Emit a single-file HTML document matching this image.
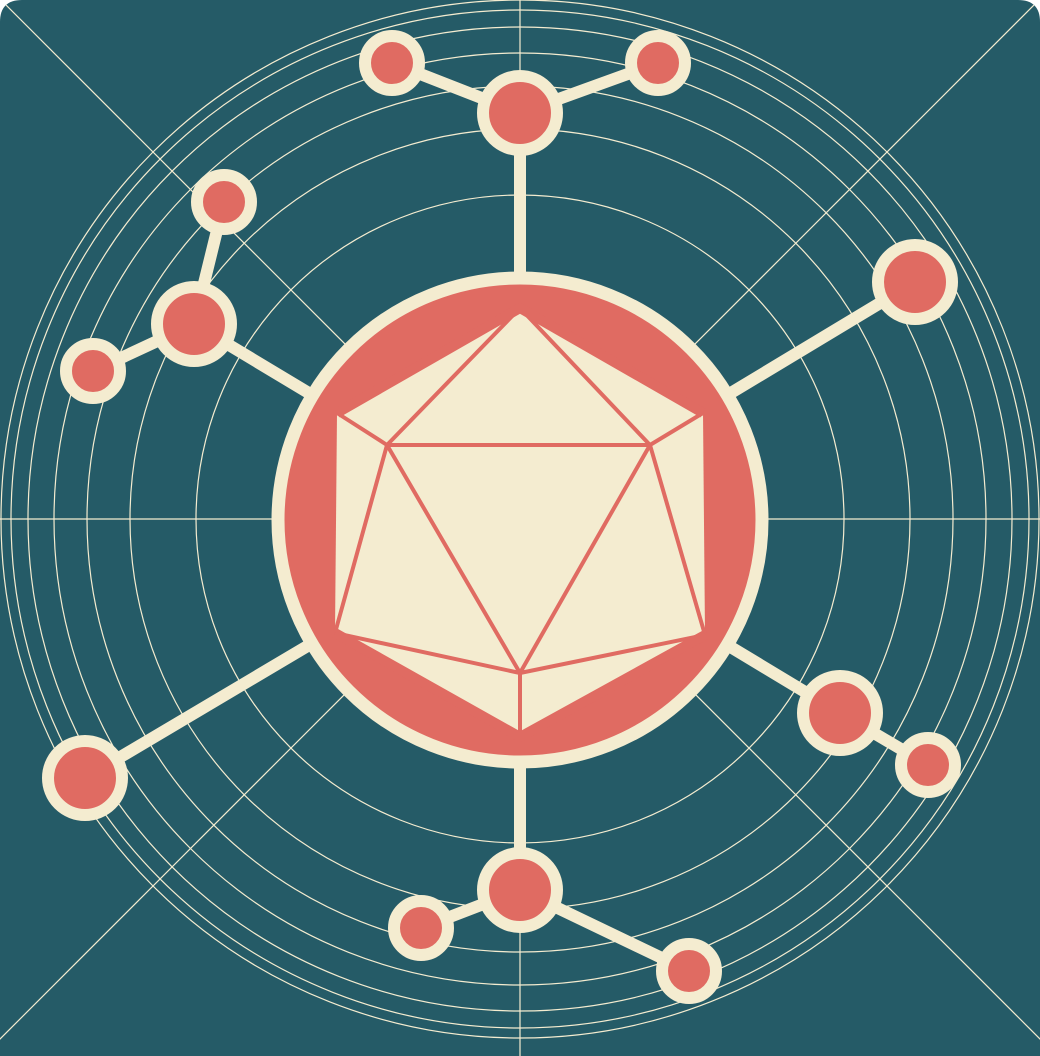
<!DOCTYPE html>
<html><head><meta charset="utf-8">
<style>html,body{margin:0;padding:0;background:#fff}svg{display:block}</style>
</head><body>
<svg id="art" width="1040" height="1056" viewBox="0 0 1040 1056" xmlns="http://www.w3.org/2000/svg">
<defs><clipPath id="clip"><path d="M22,0 H1018 Q1040,0 1040,22 V1056 H0 V22 Q0,0 22,0 Z"/></clipPath></defs>
<g clip-path="url(#clip)">
<rect x="0" y="0" width="1040" height="1056" fill="#255b67"/>
<g id="grid" stroke="#f4ecd0" stroke-width="1.2" fill="none"></g>
<g id="spokes" stroke="#f4ecd0" stroke-width="12" stroke-linecap="round"></g>
<g id="nodes"></g>
<circle cx="520" cy="520" r="242" fill="#e06b62" stroke="#f4ecd0" stroke-width="13"/>
<g stroke="#e06b62" stroke-width="4" stroke-linejoin="round">
<polygon points="520,308 703,413 705,635 520,737 335,633 337,413" fill="#f4ecd0" stroke="none"/>
<path d="M520,308 L337,413 M520,308 L703,413 M337,413 L387,445 M703,413 L650,445 M387,445 L650,445 L520,673 Z M520,308 L387,445 M520,308 L650,445 M387,445 L335,633 M650,445 L705,635 M335,633 L520,673 M705,635 L520,673 M520,673 L520,737 M335,633 L520,737 M705,635 L520,737" fill="none"/>
<path d="M337,413 L520,308 L703,413 M335,633 L520,737 L705,635" fill="none" stroke-width="10"/>
</g>
</g>
<script>
const ringRadii = [324, 390, 433, 466, 492, 509, 519];
const hubs = [[520,113],[194,324],[915,282],[85,778],[840,713],[520,890]];
const leaves = [[0,392,63],[0,658,63],[1,224,202],[1,93,371],[4,928,765],[5,421,928],[5,689,971]];
const NS='http://www.w3.org/2000/svg', cx=520, cy=519;
function mk(t,a,p){const e=document.createElementNS(NS,t);for(const k in a)e.setAttribute(k,a[k]);p.appendChild(e);return e;}
const grid=document.getElementById('grid');
ringRadii.forEach(r=>{const c=mk('circle',{cx:cx,cy:cy,r:r},grid);

});
[[cx,0,cx,1056],[0,cy,1040,cy],[0,-1,1057,1056],[1040,-1,-17,1056]].forEach(l=>{const e=mk('line',{x1:l[0],y1:l[1],x2:l[2],y2:l[3]},grid);

});
const sp=document.getElementById('spokes'), nd=document.getElementById('nodes');
hubs.forEach(h=>{const e=mk('line',{x1:520,y1:520,x2:h[0],y2:h[1]},sp);

});
leaves.forEach(l=>{const h=hubs[l[0]];const e=mk('line',{x1:h[0],y1:h[1],x2:l[1],y2:l[2]},sp);

});
hubs.forEach(h=>{const e=mk('circle',{cx:h[0],cy:h[1],r:37,fill:'#e06b62',stroke:'#f4ecd0','stroke-width':12},nd);

});
leaves.forEach(l=>{const e=mk('circle',{cx:l[1],cy:l[2],r:27,fill:'#e06b62',stroke:'#f4ecd0','stroke-width':12},nd);

});
</script>
</svg>
</body></html>
